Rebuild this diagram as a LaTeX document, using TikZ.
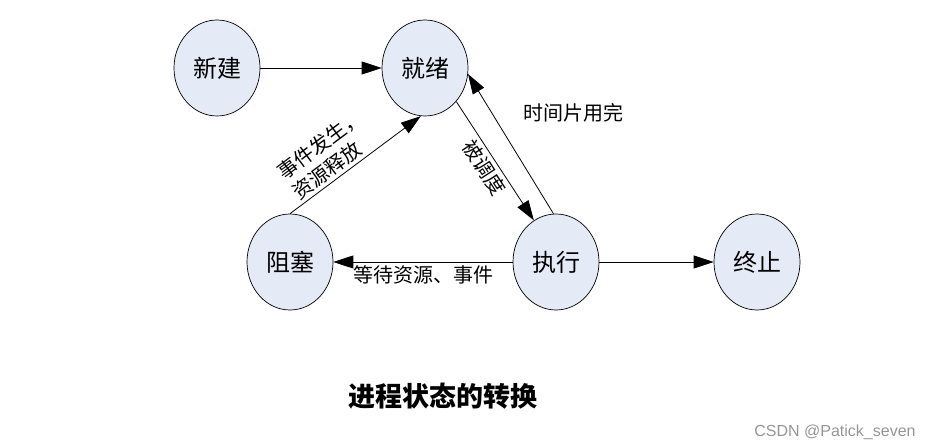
\documentclass[tikz,border=0pt]{standalone}
\usepackage{fontspec}
\newfontfamily\cjk{Noto Sans CJK SC}
\newfontfamily\wmfont{Liberation Sans}
\usetikzlibrary{shapes.geometric,arrows.meta}

\definecolor{statefill}{RGB}{229,235,246}
\definecolor{wmgray}{RGB}{150,150,150}

\begin{document}
\begin{tikzpicture}[x=1pt,y=1pt,node distance=208pt,
        procstate/.style={ellipse, draw, line width=0.7pt, fill=statefill, minimum width=86pt, minimum height=96pt, inner sep=0pt, font=\cjk\fontsize{24}{27}\selectfont},
        arr/.style={-{Triangle[length=20pt,width=13pt]}, line width=0.8pt},
        edgelabel/.style={font=\cjk\fontsize{20}{25}\selectfont, inner sep=3pt}]
        \useasboundingbox (0,0) rectangle (932,442);

        % States
        \node[procstate] (new) at (217,374) {新建};
        \node[procstate, right of=new] (ready) {就绪};
        \node[procstate, below of=ready, xshift=131pt, yshift=14pt] (run) {执行};
        \node[procstate, left of=run, xshift=-58pt] (blocked) {阻塞};
        \node[procstate, right of=run, xshift=-7pt] (done) {终止};

        % Transitions
        \draw[arr] (new) -- (ready);
        \draw[arr] (ready.-47) -- node[edgelabel, sloped, below] {被调度} (run.118);
        \draw[arr] (run.93) -- node[edgelabel, pos=0.72, right=28pt] {时间片用完} (ready.-8);
        \draw[arr] (blocked.90) -- node[edgelabel, sloped, above, pos=0.4, align=left] {事件发生，\\资源释放} (ready.-95);
        \draw[arr] (run) -- node[edgelabel, below] {等待资源、事件} (blocked);
        \draw[arr] (run) -- (done);

        % Caption
        \node[font=\cjk\bfseries\fontsize{27}{30}\selectfont] (caption) at (443,46) {进程状态的转换};
        \node[font=\wmfont\fontsize{16}{18}\selectfont, text=wmgray, inner sep=0pt] (mark) at (835,10) {CSDN @Patick\_seven};
\end{tikzpicture}
\end{document}
